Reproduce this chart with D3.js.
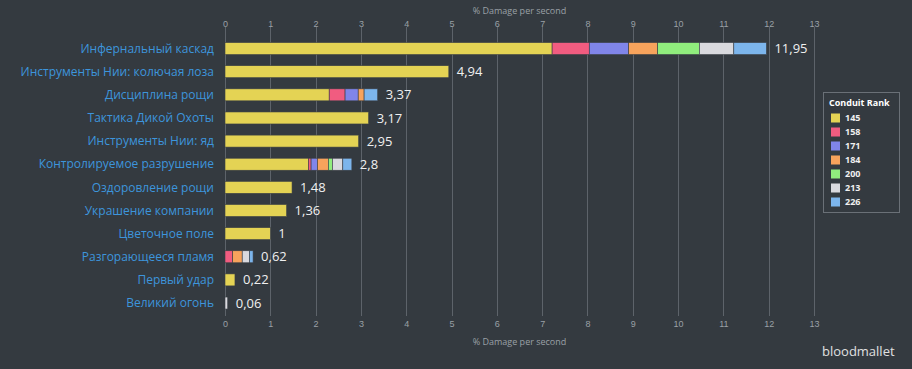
<!DOCTYPE html>
<html>
<head>
<meta charset="utf-8">
<script src="https://cdn.jsdelivr.net/npm/d3@7"></script>
<style>
  body { margin: 0; background: #343a40; }
  svg { display: block; font-family: "Open Sans", "Noto Sans", sans-serif; }
</style>
</head>
<body>
<div id="chart_div"></div>
<script>
/*
 * Data
 */
var gvCategories = [
  'Инфернальный каскад',
  'Инструменты Нии: колючая лоза',
  'Дисциплина рощи',
  'Тактика Дикой Охоты',
  'Инструменты Нии: яд',
  'Контролируемое разрушение',
  'Оздоровление рощи',
  'Украшение компании',
  'Цветочное поле',
  'Разгорающееся пламя',
  'Первый удар',
  'Великий огонь'
];

var gvRanks = ['145', '158', '171', '184', '200', '213', '226'];

// value added at each conduit rank, per category
var gvRank145 = [7.22, 4.94, 2.30, 3.17, 2.95, 1.84, 1.48, 1.36, 1.00, 0.00, 0.22, 0.00];
var gvRank158 = [0.82, 0, 0.35, 0, 0, 0.06, 0, 0, 0, 0.17, 0, 0];
var gvRank171 = [0.87, 0, 0.29, 0, 0, 0.14, 0, 0, 0, 0.00, 0, 0];
var gvRank184 = [0.64, 0, 0.13, 0, 0, 0.24, 0, 0, 0, 0.21, 0, 0];
var gvRank200 = [0.92, 0, 0.00, 0, 0, 0.09, 0, 0, 0, 0.00, 0, 0];
var gvRank213 = [0.76, 0, 0.00, 0, 0, 0.23, 0, 0, 0, 0.16, 0, 0.06];
var gvRank226 = [0.72, 0, 0.30, 0, 0, 0.20, 0, 0, 0, 0.08, 0, 0];

var gvTotals = ['11,95', '4,94', '3,37', '3,17', '2,95', '2,8', '1,48', '1,36', '1', '0,62', '0,22', '0,06'];

var gvTicks = d3.range(0, 14);

var gvColours = ['#e4d354', '#f15c80', '#8085e9', '#f7a35c', '#90ed7d', '#d9d9de', '#7cb5ec'];

/*
 * Build chart
 */
function buildChart() {

  var width = 912, height = 369;

  var svg = d3.select('#chart_div').append('svg')
    .attr('width', width)
    .attr('height', height);

  svg.append('rect').attr('width', width).attr('height', height).attr('fill', '#343a40');

  var x = d3.scaleLinear().domain([0, 13]).range([225, 814]);
  var y = d3.scaleBand().domain(gvCategories).range([37, 314.6]).paddingInner(0).paddingOuter(0);

  // grid lines
  svg.append('g').selectAll('line')
    .data(gvTicks)
    .enter().append('line')
    .attr('x1', function(d) { return Math.round(x(d)) + 0.5; })
    .attr('x2', function(d) { return Math.round(x(d)) + 0.5; })
    .attr('y1', 27)
    .attr('y2', 316)
    .attr('stroke', '#5d636a')
    .attr('stroke-width', 1);

  // top and bottom axes
  var topAxis = d3.axisTop(x).tickValues(gvTicks).tickSize(0).tickPadding(0);
  var bottomAxis = d3.axisBottom(x).tickValues(gvTicks).tickSize(0).tickPadding(0);

  var gTop = svg.append('g').attr('transform', 'translate(0,27)').call(topAxis);
  var gBottom = svg.append('g').attr('transform', 'translate(0,321)').call(bottomAxis);

  [gTop, gBottom].forEach(function(g) {
    g.select('.domain').remove();
    g.selectAll('text')
      .attr('fill', '#9aa0a6')
      .style('font-size', '9px');
  });

  svg.append('text')
    .attr('x', 519.5).attr('y', 14)
    .attr('text-anchor', 'middle')
    .attr('fill', '#9aa0a6')
    .style('font-size', '9px')
    .text('% Damage per second');

  svg.append('text')
    .attr('x', 519.5).attr('y', 345)
    .attr('text-anchor', 'middle')
    .attr('fill', '#9aa0a6')
    .style('font-size', '9px')
    .text('% Damage per second');

  // stacked bars
  var rows = gvCategories.map(function(c, i) {
    return {
      cat: c,
      '145': gvRank145[i], '158': gvRank158[i], '171': gvRank171[i], '184': gvRank184[i],
      '200': gvRank200[i], '213': gvRank213[i], '226': gvRank226[i]
    };
  });

  var stack = d3.stack().keys(gvRanks)(rows);
  var barH = 12;

  svg.append('g').selectAll('g')
    .data(stack)
    .enter().append('g')
    .attr('fill', function(d, i) { return gvColours[i]; })
    .selectAll('rect')
    .data(function(d) { return d; })
    .enter().append('rect')
    .filter(function(d) { return d[1] - d[0] > 0; })
    .attr('x', function(d) { return x(d[0]); })
    .attr('width', function(d) { return Math.max(1, x(d[1]) - x(d[0])); })
    .attr('y', function(d) { return y(d.data.cat) + y.bandwidth() / 2 - barH / 2; })
    .attr('height', barH)
    .attr('stroke', '#3a3f45')
    .attr('stroke-width', 0.6);

  // value labels
  var totals = rows.map(function(r) {
    return d3.sum(gvRanks, function(k) { return r[k]; });
  });

  svg.append('g').selectAll('text')
    .data(gvCategories)
    .enter().append('text')
    .attr('x', function(d, i) { return x(totals[i]) + 8; })
    .attr('y', function(d) { return y(d) + y.bandwidth() / 2; })
    .attr('dy', '0.35em')
    .attr('fill', '#f0f0f0')
    .style('font-size', '13px')
    .text(function(d, i) { return gvTotals[i]; });

  // category labels
  svg.append('g').selectAll('text')
    .data(gvCategories)
    .enter().append('text')
    .attr('x', 214)
    .attr('y', function(d) { return y(d) + y.bandwidth() / 2; })
    .attr('dy', '0.35em')
    .attr('text-anchor', 'end')
    .attr('fill', '#3d95dc')
    .style('font-size', '12px')
    .text(function(d) { return d; });

  // legend
  var legend = svg.append('g');
  legend.append('rect')
    .attr('x', 823.5).attr('y', 92.5)
    .attr('width', 76).attr('height', 120)
    .attr('fill', 'none')
    .attr('stroke', '#6a7077');

  legend.append('text')
    .attr('x', 829).attr('y', 106)
    .attr('fill', '#ffffff')
    .style('font-size', '9px')
    .style('font-weight', 'bold')
    .text('Conduit Rank');

  var items = legend.selectAll('.item')
    .data(gvRanks)
    .enter().append('g')
    .attr('class', 'item')
    .attr('transform', function(d, i) { return 'translate(831,' + (118 + i * 14) + ')'; });

  items.append('rect')
    .attr('x', 0).attr('y', -4.5)
    .attr('width', 9).attr('height', 9)
    .attr('fill', function(d, i) { return gvColours[i]; });

  items.append('text')
    .attr('x', 14).attr('y', 0)
    .attr('dy', '0.35em')
    .attr('fill', '#f0f0f0')
    .style('font-size', '9px')
    .style('font-weight', 'bold')
    .text(function(d) { return d; });

  // logo
  svg.append('text')
    .attr('x', 822).attr('y', 356)
    .attr('fill', '#e0e0e0')
    .style('font-size', '13px')
    .text('bloodmallet');
}

buildChart();
</script>
</body>
</html>
